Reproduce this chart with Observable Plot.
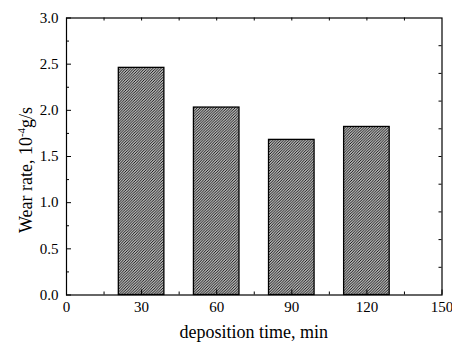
<!DOCTYPE html>
<html>
<head>
<meta charset="utf-8">
<script src="https://cdn.jsdelivr.net/npm/d3@7"></script>
<script src="https://cdn.jsdelivr.net/npm/@observablehq/plot@0.6"></script>
<style>
  html, body { margin: 0; padding: 0; background: #fff; }
  #chart svg { display: block; }
  #chart svg text { font-family: "Liberation Serif", "Times New Roman", serif; }
</style>
</head>
<body>
<div id="chart"></div>
<script>
// Data
const times = [30, 60, 90, 120];
const wearRates = [2.46, 2.03, 1.68, 1.82];
const xTicks = [0, 30, 60, 90, 120, 150];
const yTicks = [0, 0.5, 1.0, 1.5, 2.0, 2.5, 3.0];
const yMinorTicks = [0.25, 0.75, 1.25, 1.75, 2.25, 2.75];
const xMinorTicks = [15, 45, 75, 105, 135];
const topTicks = [15, 30, 45, 60, 75, 90, 105, 120, 135];
const rightTicks = [0.3, 0.6, 0.9, 1.2, 1.5, 1.8, 2.1, 2.4, 2.7];
const barHalfWidth = 9.1;

const bars = times.map((t, i) => ({t, v: wearRates[i]}));

const W = 452, H = 345;
const mL = 66, mR = 10.5, mT = 17.5, mB = 50.5;
const fw = W - mL - mR, fh = H - mT - mB;
const serif = "Liberation Serif";

const defs = () => {
  const d = d3.create("svg:defs");
  const s = 2.7;
  const p = d.append("pattern")
    .attr("id", "hatch")
    .attr("patternUnits", "userSpaceOnUse")
    .attr("width", s).attr("height", s);
  p.append("rect").attr("width", s).attr("height", s).attr("fill", "#fff");
  p.append("path")
    .attr("d", `M${-s/2},${s/2} L${s/2},${-s/2} M0,${s} L${s},0 M${s/2},${1.5*s} L${1.5*s},${s/2}`)
    .attr("stroke", "#000").attr("stroke-width", 1);
  return d.node();
};

const chart = Plot.plot({
  width: W, height: H,
  marginLeft: mL, marginRight: mR, marginTop: mT, marginBottom: mB,
  style: {fontFamily: serif, fontSize: "15px", color: "#000", background: "#fff"},
  x: {domain: [0, 150], label: null},
  y: {domain: [0, 3], label: null},
  marks: [
    defs,
    Plot.rectY(bars, {x1: d => d.t - barHalfWidth, x2: d => d.t + barHalfWidth, y: "v", fill: "url(#hatch)", stroke: "#000", strokeWidth: 1.3}),
    Plot.frame({stroke: "#000", strokeWidth: 1.2}),
    Plot.axisX(xTicks, {tickSize: 0, tickPadding: 6, fontSize: 15, fontFamily: serif, tickFormat: d => String(d)}),
    Plot.axisY(yTicks, {tickSize: 0, tickPadding: 8, fontSize: 15, fontFamily: serif, tickFormat: d3.format(".1f")}),
    // inward ticks
    Plot.tickY(yTicks, {y: d => d, insetRight: fw - 5, stroke: "#000"}),
    Plot.tickY(yMinorTicks, {y: d => d, insetRight: fw - 3, stroke: "#000"}),
    Plot.tickY(rightTicks, {y: d => d, insetLeft: fw - 3, stroke: "#000"}),
    Plot.tickX(xTicks, {x: d => d, insetTop: fh - 5, stroke: "#000"}),
    Plot.tickX(xMinorTicks, {x: d => d, insetTop: fh - 3, stroke: "#000"}),
    Plot.tickX(topTicks, {x: d => d, insetBottom: fh - 3, stroke: "#000"})
  ]
});

const svg = d3.select(chart);
svg.append("text")
  .attr("x", mL + fw / 2).attr("y", 338)
  .attr("text-anchor", "middle")
  .attr("font-size", 18)
  .attr("fill", "#000")
  .text("deposition time, min");

const yl = svg.append("text")
  .attr("transform", `translate(32,${mT + fh / 2 + 14}) rotate(-90)`)
  .attr("text-anchor", "middle")
  .attr("font-size", 18)
  .attr("fill", "#000");
yl.append("tspan").text("Wear rate, 10");
yl.append("tspan").attr("dy", -7).attr("font-size", 11).text("-4");
yl.append("tspan").attr("dy", 7).text("g/s");

document.getElementById("chart").appendChild(chart);
</script>
</body>
</html>
